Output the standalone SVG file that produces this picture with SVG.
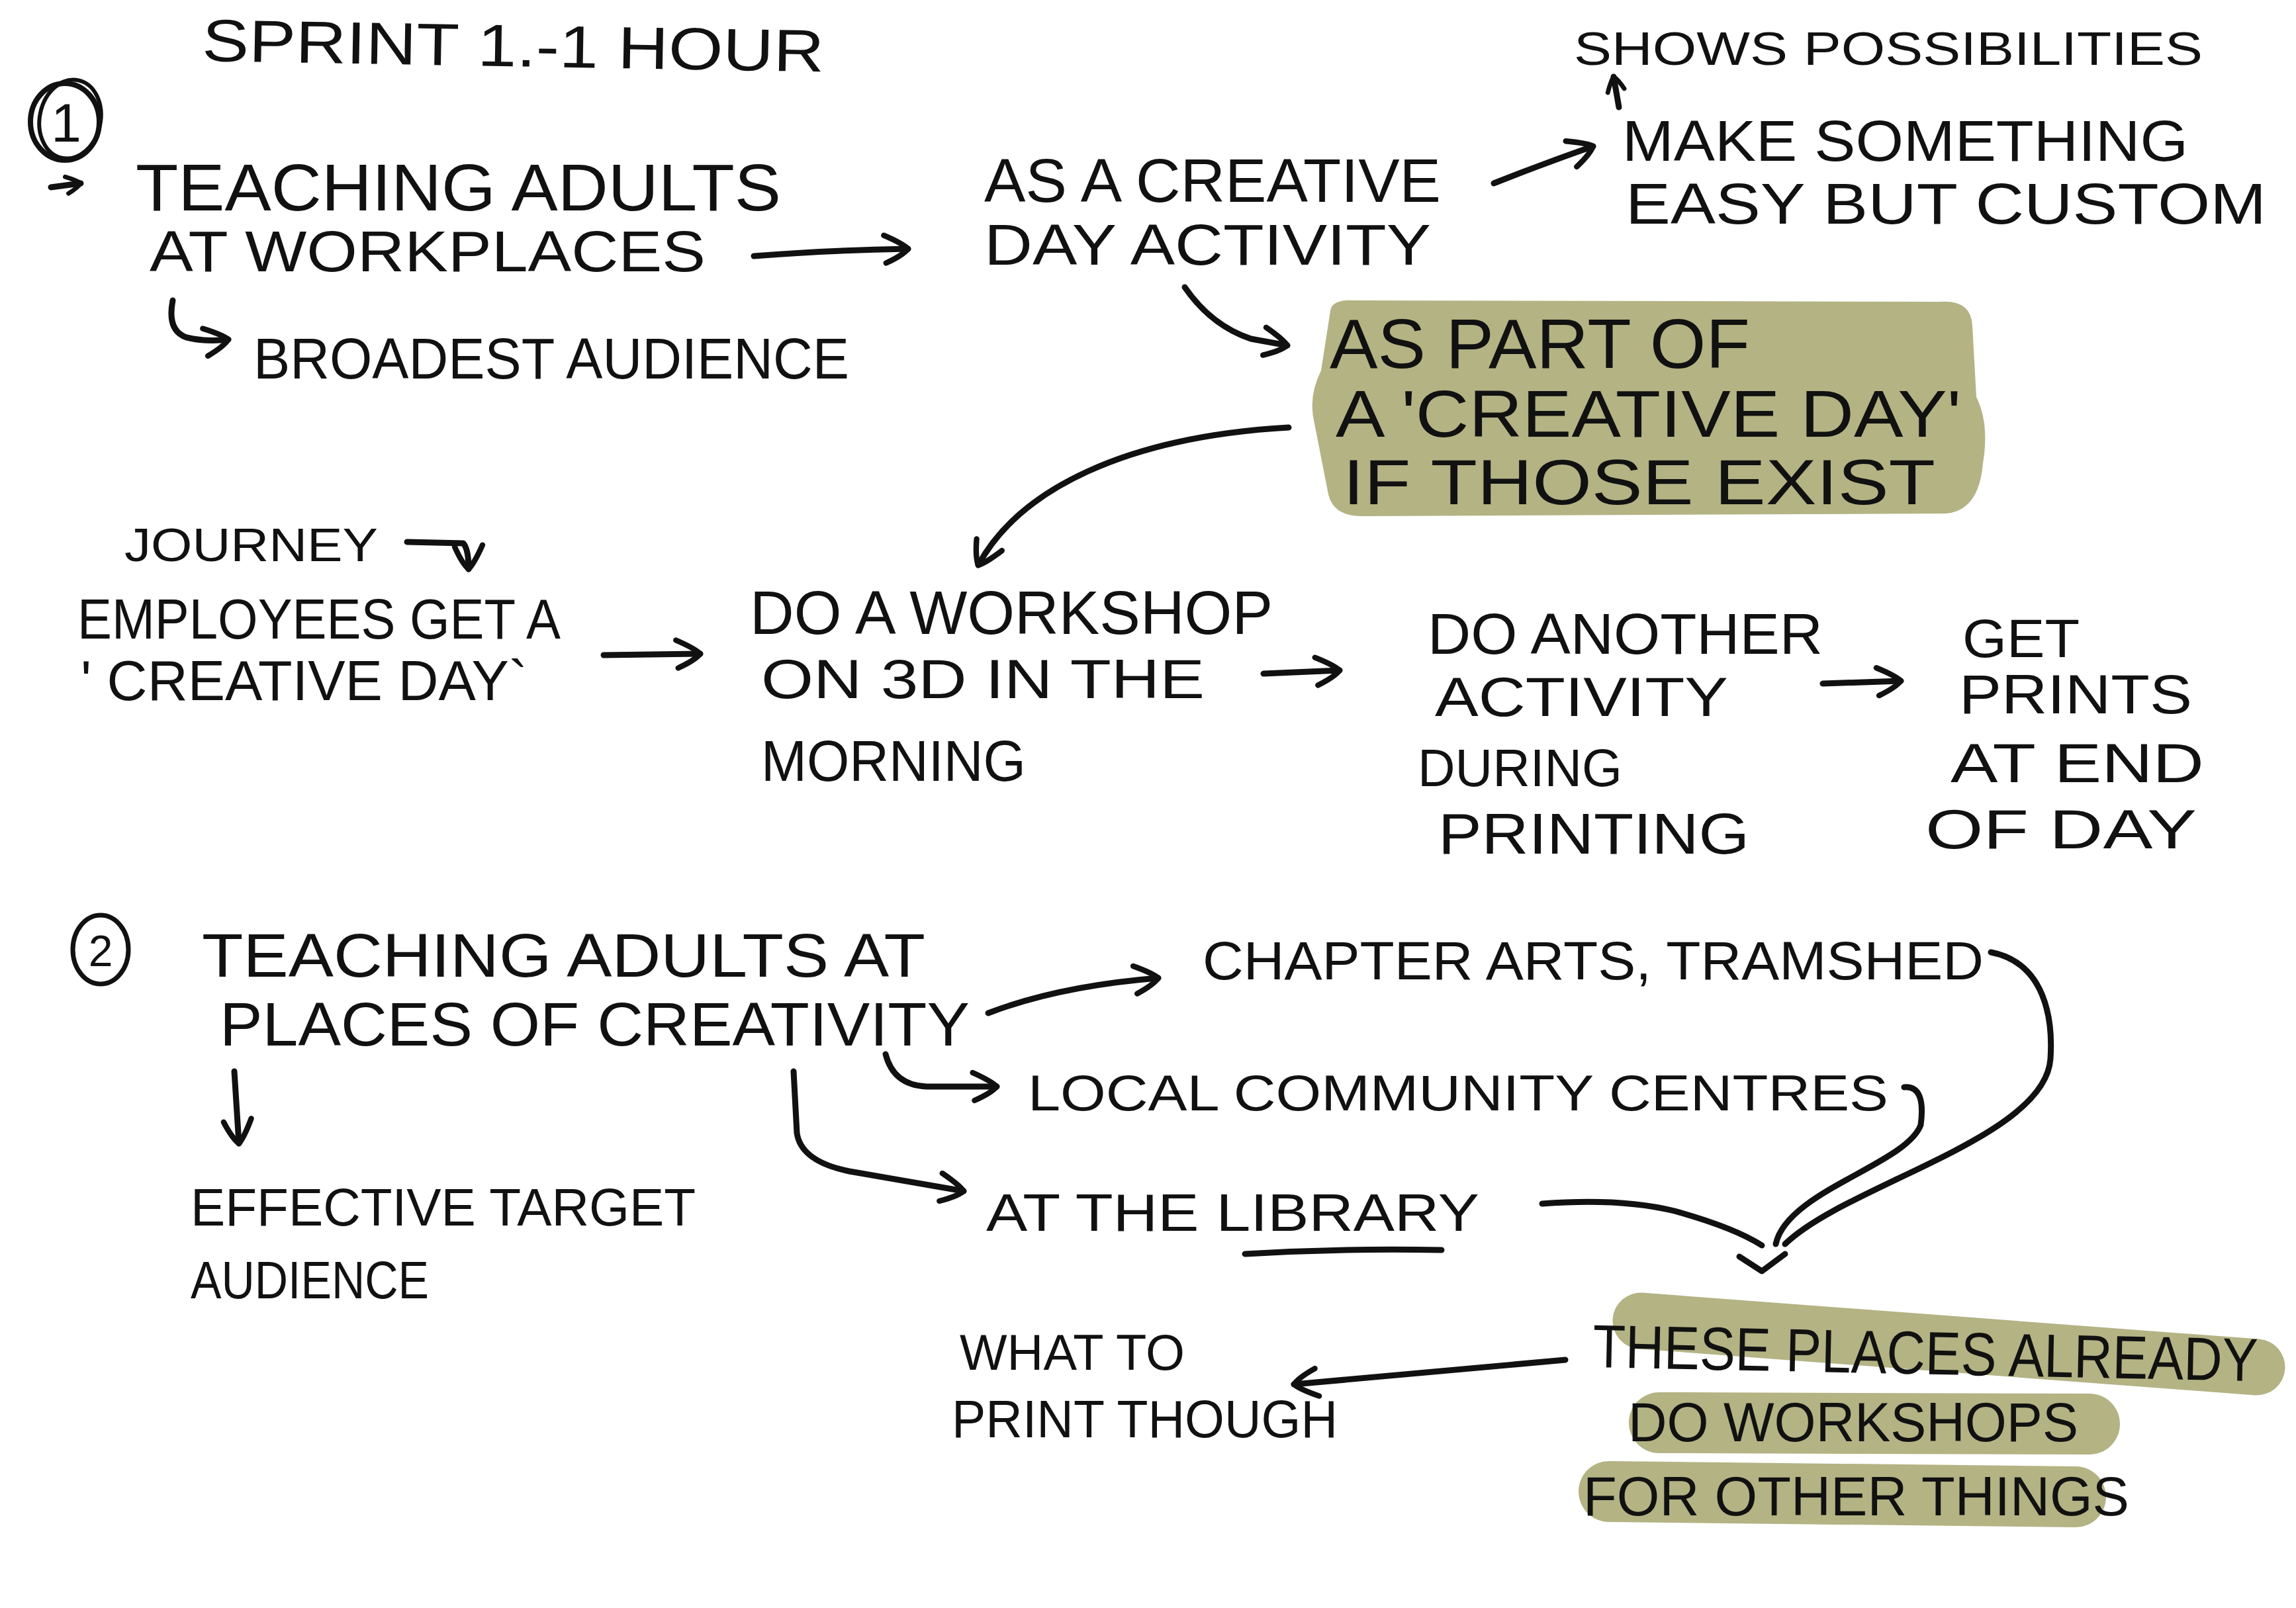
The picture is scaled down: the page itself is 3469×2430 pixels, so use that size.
<svg xmlns="http://www.w3.org/2000/svg" width="3469" height="2430" viewBox="0 0 3469 2430">
<style>
.t{font-family:"Liberation Sans",Arial,sans-serif;fill:#111;}
.c{fill:none;stroke:#111;stroke-width:9;stroke-linecap:round;stroke-linejoin:round;}
.hl{fill:#b3b384;}
.band{fill:none;stroke:#b3b384;stroke-linecap:round;}
</style>
<defs>
<marker id="ah" viewBox="0 0 40 40" refX="36" refY="20" markerWidth="56" markerHeight="56" markerUnits="userSpaceOnUse" orient="auto">
<path d="M10,5 Q30,14 36,20 Q30,27 12,35" fill="none" stroke="#111" stroke-width="6" stroke-linecap="round" stroke-linejoin="round"/>
</marker>
<marker id="ahs" viewBox="0 0 40 40" refX="36" refY="20" markerWidth="34" markerHeight="34" markerUnits="userSpaceOnUse" orient="auto">
<path d="M10,5 Q30,14 36,20 Q30,27 12,35" fill="none" stroke="#111" stroke-width="8" stroke-linecap="round"/>
</marker>
</defs>
<rect width="3469" height="2430" fill="#fff"/>

<!-- highlights -->
<path class="hl" d="M2010,470 Q2012,452 2045,454 L2930,456 Q2978,452 2980,492 L2986,600 Q3006,640 2996,700 Q2990,772 2940,776 L2062,780 Q2012,782 2006,742 L1986,640 Q1976,600 1996,560 Z"/>
<path class="band" stroke-width="85" d="M2479,1996 L3410,2066"/>
<path class="band" stroke-width="92" d="M2507,2150 L3157,2152"/>
<path class="band" stroke-width="92" d="M2431,2254 L3136,2262"/>

<g id="title"><text class="t" x="305" y="92" font-size="90" textLength="940" lengthAdjust="spacingAndGlyphs" transform="rotate(1 305 92)">SPRINT 1.-1 HOUR</text></g>

<g id="n1badge">
<ellipse cx="98" cy="184" rx="52" ry="58" fill="none" stroke="#111" stroke-width="8"/>
<ellipse cx="106" cy="180" rx="46" ry="60" fill="none" stroke="#111" stroke-width="6" transform="rotate(12 106 180)"/>
<text class="t" x="100" y="214" font-size="82" text-anchor="middle">1</text>
</g>

<g id="teach1">
<text class="t" x="205" y="318" font-size="100" textLength="975" lengthAdjust="spacingAndGlyphs">TEACHING ADULTS</text>
<text class="t" x="226" y="410" font-size="88" textLength="840" lengthAdjust="spacingAndGlyphs">AT WORKPLACES</text>
</g>
<g id="broadest"><text class="t" x="383" y="572" font-size="88" textLength="900" lengthAdjust="spacingAndGlyphs">BROADEST AUDIENCE</text></g>
<g id="creativeday"><text class="t" x="1487" y="305" font-size="92" textLength="690" lengthAdjust="spacingAndGlyphs">AS A CREATIVE</text>
<text class="t" x="1487" y="400" font-size="88" textLength="675" lengthAdjust="spacingAndGlyphs">DAY ACTIVITY</text></g>
<g id="shows"><text class="t" x="2378" y="98" font-size="70" textLength="950" lengthAdjust="spacingAndGlyphs">SHOWS POSSIBILITIES</text></g>
<g id="make"><text class="t" x="2451" y="243" font-size="88" textLength="855" lengthAdjust="spacingAndGlyphs">MAKE SOMETHING</text>
<text class="t" x="2456" y="338" font-size="88" textLength="968" lengthAdjust="spacingAndGlyphs">EASY BUT CUSTOM</text></g>
<g id="partof"><text class="t" x="2009" y="556" font-size="105" textLength="635" lengthAdjust="spacingAndGlyphs">AS PART OF</text>
<text class="t" x="2018" y="660" font-size="100" textLength="945" lengthAdjust="spacingAndGlyphs">A 'CREATIVE DAY'</text>
<text class="t" x="2029" y="762" font-size="96" textLength="895" lengthAdjust="spacingAndGlyphs">IF THOSE EXIST</text></g>
<g id="journey"><text class="t" x="188" y="848" font-size="70" textLength="383" lengthAdjust="spacingAndGlyphs">JOURNEY</text></g>
<g id="employees"><text class="t" x="117" y="965" font-size="86" textLength="730" lengthAdjust="spacingAndGlyphs">EMPLOYEES GET A</text>
<text class="t" x="122" y="1058" font-size="86" textLength="675" lengthAdjust="spacingAndGlyphs">' CREATIVE DAY`</text></g>
<g id="workshop"><text class="t" x="1133" y="958" font-size="92" textLength="790" lengthAdjust="spacingAndGlyphs">DO A WORKSHOP</text>
<text class="t" x="1150" y="1055" font-size="84" textLength="670" lengthAdjust="spacingAndGlyphs">ON 3D IN THE</text>
<text class="t" x="1150" y="1180" font-size="88" textLength="400" lengthAdjust="spacingAndGlyphs">MORNING</text></g>
<g id="another"><text class="t" x="2157" y="988" font-size="88" textLength="597" lengthAdjust="spacingAndGlyphs">DO ANOTHER</text>
<text class="t" x="2168" y="1082" font-size="84" textLength="443" lengthAdjust="spacingAndGlyphs">ACTIVITY</text>
<text class="t" x="2142" y="1188" font-size="80" textLength="309" lengthAdjust="spacingAndGlyphs">DURING</text>
<text class="t" x="2173" y="1290" font-size="88" textLength="470" lengthAdjust="spacingAndGlyphs">PRINTING</text></g>
<g id="getprints"><text class="t" x="2965" y="993" font-size="82" textLength="177" lengthAdjust="spacingAndGlyphs">GET</text>
<text class="t" x="2960" y="1078" font-size="84" textLength="352" lengthAdjust="spacingAndGlyphs">PRINTS</text>
<text class="t" x="2947" y="1182" font-size="84" textLength="383" lengthAdjust="spacingAndGlyphs">AT END</text>
<text class="t" x="2909" y="1282" font-size="84" textLength="410" lengthAdjust="spacingAndGlyphs">OF DAY</text></g>

<g id="n2badge">
<ellipse cx="152" cy="1435" rx="42" ry="52" fill="none" stroke="#111" stroke-width="7"/>
<text class="t" x="152" y="1460" font-size="66" text-anchor="middle">2</text>
</g>
<g id="teach2"><text class="t" x="305" y="1476" font-size="92" textLength="1093" lengthAdjust="spacingAndGlyphs">TEACHING ADULTS AT</text>
<text class="t" x="332" y="1580" font-size="92" textLength="1133" lengthAdjust="spacingAndGlyphs">PLACES OF CREATIVITY</text></g>
<g id="chapter"><text class="t" x="1817" y="1480" font-size="82" textLength="1180" lengthAdjust="spacingAndGlyphs">CHAPTER ARTS, TRAMSHED</text></g>
<g id="local"><text class="t" x="1553" y="1678" font-size="76" textLength="1300" lengthAdjust="spacingAndGlyphs">LOCAL COMMUNITY CENTRES</text></g>
<g id="effective"><text class="t" x="288" y="1852" font-size="80" textLength="763" lengthAdjust="spacingAndGlyphs">EFFECTIVE TARGET</text>
<text class="t" x="288" y="1962" font-size="80" textLength="360" lengthAdjust="spacingAndGlyphs">AUDIENCE</text></g>
<g id="library"><text class="t" x="1490" y="1860" font-size="80" textLength="745" lengthAdjust="spacingAndGlyphs">AT THE LIBRARY</text>
<path class="c" d="M1881,1895 Q2030,1886 2178,1889"/></g>
<g id="theseplaces"><text class="t" x="2406" y="2066" font-size="92" textLength="1005" lengthAdjust="spacingAndGlyphs" transform="rotate(1.2 2406 2066)">THESE PLACES ALREADY</text>
<text class="t" x="2460" y="2178" font-size="84" textLength="680" lengthAdjust="spacingAndGlyphs">DO WORKSHOPS</text>
<text class="t" x="2392" y="2290" font-size="84" textLength="825" lengthAdjust="spacingAndGlyphs">FOR OTHER THINGS</text></g>
<g id="whattoprint"><text class="t" x="1450" y="2070" font-size="76" textLength="340" lengthAdjust="spacingAndGlyphs">WHAT TO</text>
<text class="t" x="1438" y="2172" font-size="80" textLength="583" lengthAdjust="spacingAndGlyphs">PRINT THOUGH</text></g>

<g id="connectors">
<path class="c" d="M77,283 L122,277" marker-end="url(#ahs)"/>
<path class="c" d="M1139,387 Q1250,378 1372,376" marker-end="url(#ah)"/>
<path class="c" d="M261,454 Q252,500 282,510 Q312,517 345,513" marker-end="url(#ah)"/>
<path class="c" d="M2257,277 Q2330,248 2407,221" marker-end="url(#ah)"/>
<path class="c" d="M2446,162 L2438,116" marker-end="url(#ahs)"/>
<path class="c" d="M1790,434 Q1830,492 1890,512 L1945,522" marker-end="url(#ah)"/>
<path class="c" d="M1947,646 C1700,660 1540,740 1478,854" marker-end="url(#ah)"/>
<path class="c" d="M615,819 L700,821 Q708,830 708,860" marker-end="url(#ah)"/>
<path class="c" d="M912,990 L1058,988" marker-end="url(#ah)"/>
<path class="c" d="M1909,1018 L2024,1013" marker-end="url(#ah)"/>
<path class="c" d="M2754,1033 L2872,1029" marker-end="url(#ah)"/>
<path class="c" d="M1493,1531 Q1600,1490 1750,1478" marker-end="url(#ah)"/>
<path class="c" d="M1338,1593 Q1350,1640 1400,1642 L1506,1642" marker-end="url(#ah)"/>
<path class="c" d="M354,1619 L361,1728" marker-end="url(#ah)"/>
<path class="c" d="M1199,1619 L1204,1712 Q1210,1755 1283,1770 L1456,1800" marker-end="url(#ah)"/>
<path class="c" d="M3008,1439 C3090,1455 3102,1540 3098,1600 C3090,1720 2790,1790 2697,1880"/>
<path class="c" d="M2877,1643 Q2910,1640 2902,1700 C2880,1760 2700,1800 2683,1880"/>
<path class="c" d="M2330,1819 Q2448,1810 2530,1830 Q2620,1855 2662,1882"/>
<path class="c" d="M2628,1899 L2662,1921 L2697,1895"/>
<path class="c" d="M2365,2055 L1955,2092" marker-end="url(#ah)"/>
</g>
</svg>
